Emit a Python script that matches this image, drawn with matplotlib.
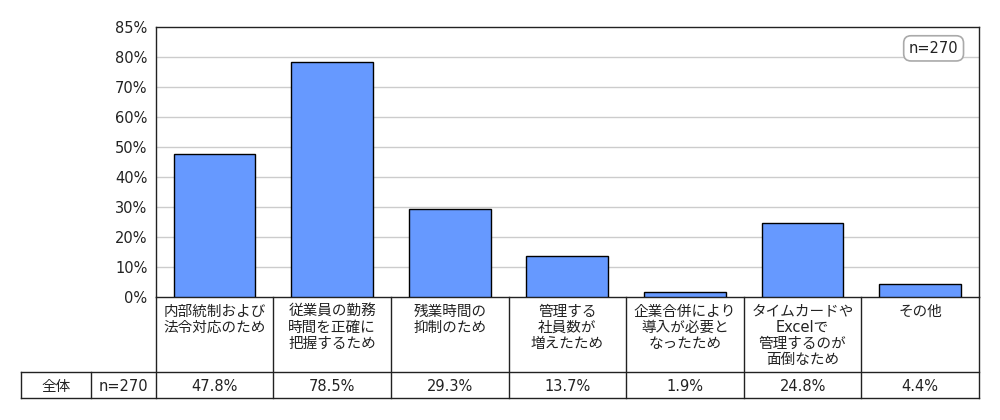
import matplotlib
matplotlib.use('Agg')
import matplotlib.pyplot as plt
import numpy as np

plt.rcParams['font.family'] = ['DejaVu Sans', 'Noto Sans CJK JP']

categories = ['内部統制および\n法令対応のため',
              '従業員の勤務\n時間を正確に\n把握するため',
              '残業時間の\n抑制のため',
              '管理する\n社員数が\n増えたため',
              '企業合併により\n導入が必要と\nなったため',
              'タイムカードや\nExcelで\n管理するのが\n面倒なため',
              'その他']
values = [47.8, 78.5, 29.3, 13.7, 1.9, 24.8, 4.4]
row_label = '全体'
n_label = 'n=270'
yticks = [0, 10, 20, 30, 40, 50, 60, 70, 80, 90]
ytick_labels = ['0%', '10%', '20%', '30%', '40%', '50%', '60%', '70%', '80%', '85%']

bar_color = '#6699ff'
line_color = '#222222'
text_color = '#222222'
fs = 10.5

fig = plt.figure(figsize=(10, 4.2), dpi=100)
ax = fig.add_axes([0.1557, 0.2921, 0.8233, 0.6429])
x = np.arange(len(categories))
ax.bar(x, values, width=0.695, color=bar_color, edgecolor='black', linewidth=1, zorder=3)
ax.set_xlim(-0.5, len(categories) - 0.5)
ax.set_ylim(0, 90)
ax.set_yticks(yticks)
ax.set_yticklabels(ytick_labels, fontsize=fs, color=text_color)
ax.set_xticks([])
ax.tick_params(axis='y', length=0, pad=6)
for v in yticks[1:-1]:
    ax.axhline(v, color='#cccccc', linewidth=1, zorder=1)
for s in ax.spines.values():
    s.set_color(line_color)
    s.set_linewidth(1)

# n= box in the top right
ax.text(0.975, 0.922, n_label, transform=ax.transAxes, ha='right', va='center',
        fontsize=fs, color=text_color,
        bbox=dict(boxstyle='round,pad=0.35,rounding_size=0.5', fc='white', ec='#aaaaaa', lw=1.2))

# table under the chart, y in pixels from the axis bottom
tx = fig.add_axes([0.1557, 0.0517, 0.8233, 0.2405], sharex=ax)
tx.set_ylim(101, 0)
tx.axis('off')
left_outer = -0.5 - 135 / 117.6
left_inner = -0.5 - 65 / 117.6
kw = dict(color=line_color, linewidth=1, clip_on=False)
for i in range(len(categories) + 1):
    tx.plot([i - 0.5, i - 0.5], [0, 101], **kw)
tx.plot([left_outer, len(categories) - 0.5], [75, 75], **kw)
tx.plot([left_outer, len(categories) - 0.5], [101, 101], **kw)
tx.plot([left_outer, left_outer], [75, 101], **kw)
tx.plot([left_inner, left_inner], [75, 101], **kw)

for i, (c, v) in enumerate(zip(categories, values)):
    tx.text(i, 6.5, c, ha='center', va='top', fontsize=fs, linespacing=1.08, color=text_color)
    tx.text(i, 89, f'{v:.1f}%', ha='center', va='center', fontsize=fs, color=text_color)
tx.text((left_outer + left_inner) / 2, 89, row_label, ha='center', va='center', fontsize=fs, color=text_color)
tx.text((left_inner - 0.5) / 2, 89, n_label, ha='center', va='center', fontsize=fs, color=text_color)

fig.savefig('out.png', dpi=100)
